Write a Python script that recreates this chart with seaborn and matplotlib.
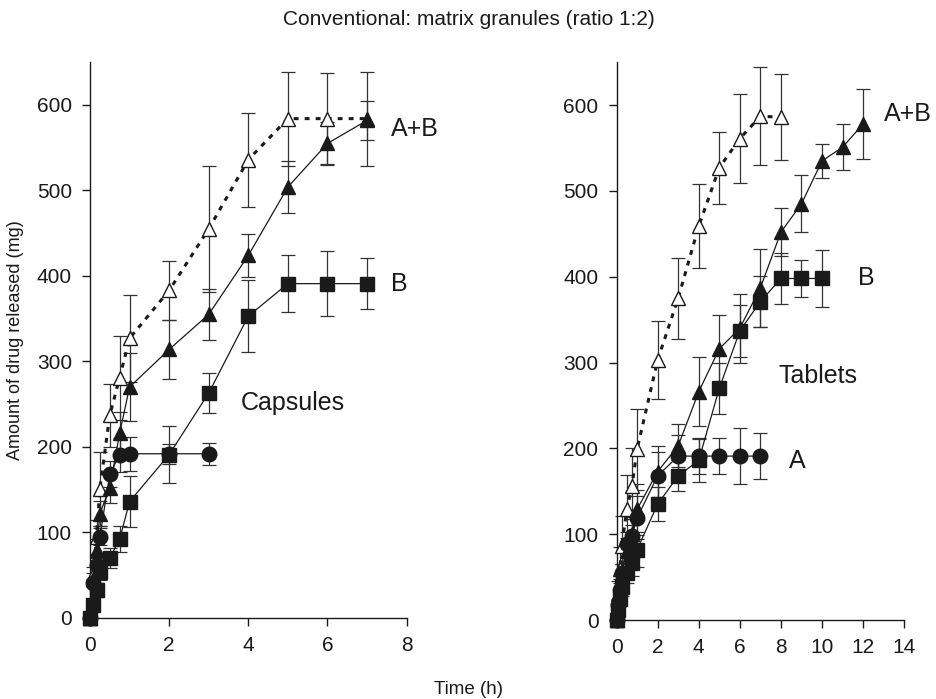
#!/usr/bin/env python3

import numpy as np
import matplotlib
matplotlib.use("Agg")
import matplotlib.pyplot as plt
import seaborn as sns

# ---- capsules (left panel) ----
cap_t_A  = [0, 0.083, 0.167, 0.25, 0.5, 0.75, 1, 2, 3]
cap_A    = [0, 41, 62, 95, 168, 191, 192, 192, 192]
cap_A_sd = [0, 5, 8, 10, 15, 20, 20, 12, 13]

cap_t_B  = [0, 0.083, 0.167, 0.25, 0.5, 0.75, 1, 2, 3, 4, 5, 6, 7]
cap_B    = [0, 15, 33, 54, 70, 92, 136, 191, 263, 353, 391, 391, 391]
cap_B_sd = [0, 5, 8, 10, 12, 15, 30, 33, 23, 42, 33, 38, 30]

cap_t_AB  = [0, 0.083, 0.167, 0.25, 0.5, 0.75, 1, 2, 3, 4, 5, 6, 7]
cap_AB    = [0, 45, 80, 122, 152, 216, 270, 314, 355, 424, 504, 555, 582]
cap_AB_sd = [0, 8, 12, 15, 18, 25, 40, 35, 30, 25, 30, 25, 23]

cap_AB_sum    = [0, 50, 95, 151, 237, 281, 327, 383, 455, 536, 584, 584, 584]
cap_AB_sum_sd = [0, 10, 20, 43, 37, 49, 51, 35, 74, 55, 55, 53, 55]

# ---- tablets (right panel) ----
tab_t_A  = [0, 0.083, 0.167, 0.25, 0.5, 0.75, 1, 2, 3, 4, 5, 6, 7]
tab_A    = [0, 18, 35, 55, 88, 98, 119, 168, 191, 191, 191, 191, 191]
tab_A_sd = [0, 5, 8, 10, 15, 20, 25, 28, 25, 21, 21, 33, 27]

tab_t_B  = [0, 0.083, 0.167, 0.25, 0.5, 0.75, 1, 2, 3, 4, 5, 6, 7, 8, 9, 10]
tab_B    = [0, 12, 25, 38, 55, 66, 82, 135, 168, 186, 270, 337, 371, 398, 398, 398]
tab_B_sd = [0, 5, 8, 10, 12, 15, 20, 20, 18, 25, 30, 30, 30, 30, 22, 33]

tab_t_AB  = [0, 0.083, 0.167, 0.25, 0.5, 0.75, 1, 2, 3, 4, 5, 6, 7, 8, 9, 10, 11, 12]
tab_AB    = [0, 20, 40, 55, 80, 100, 129, 173, 203, 266, 316, 340, 387, 452, 485, 535, 551, 578]
tab_AB_sd = [0, 5, 8, 10, 15, 20, 30, 30, 25, 40, 40, 40, 45, 28, 33, 20, 27, 41]

tab_t_sum     = [0, 0.083, 0.167, 0.25, 0.5, 0.75, 1, 2, 3, 4, 5, 6, 7, 8]
tab_AB_sum    = [0, 30, 60, 86, 129, 156, 199, 303, 375, 459, 527, 561, 587, 586]
tab_AB_sum_sd = [0, 15, 25, 35, 40, 45, 47, 46, 47, 49, 42, 52, 57, 50]

INK = "#1a1a1a"
TEXT_FONT = ["Liberation Sans", "DejaVu Sans"]


def draw_series(ax, t, y, sd, marker, filled=True, dotted=False):
    ax.errorbar(t, y, yerr=sd, fmt="none", ecolor="#333333", elinewidth=0.9,
                capsize=4.7, capthick=0.9, clip_on=False, zorder=2)
    if dotted:
        sns.lineplot(x=t, y=y, ax=ax, color=INK, linewidth=2.2,
                     linestyle=(0, (1.6, 2.0)), zorder=3)
    else:
        sns.lineplot(x=t, y=y, ax=ax, color=INK, linewidth=0.9, zorder=3)
    ax.plot(t, y, linestyle="none", marker=marker, markersize=10.5,
            markerfacecolor=INK if filled else "white",
            markeredgecolor=INK, markeredgewidth=1.0, clip_on=False, zorder=4)


def style_axes(ax, xmax, xstep):
    ax.set_xlim(0, xmax)
    ax.set_ylim(0, 650)
    ax.set_xticks(np.arange(0, xmax + 1, xstep))
    ax.set_yticks(np.arange(0, 601, 100))
    for s in ["top", "right"]:
        ax.spines[s].set_visible(False)
    for s in ["left", "bottom"]:
        ax.spines[s].set_color(INK)
        ax.spines[s].set_linewidth(1.0)
    ax.tick_params(direction="out", length=6, width=1.0, colors=INK,
                   labelsize=15, pad=7)
    ax.set_xlabel("")
    ax.set_ylabel("")


def main():
    sns.set_style("ticks")
    plt.rcParams["font.family"] = TEXT_FONT

    fig = plt.figure(figsize=(9.37, 6.99), dpi=100)
    ax1 = fig.add_axes([0.096, 0.116, 0.338, 0.795])
    ax2 = fig.add_axes([0.658, 0.113, 0.307, 0.798])

    # capsules
    draw_series(ax1, cap_t_AB, cap_AB_sum, cap_AB_sum_sd, "^", filled=False, dotted=True)
    draw_series(ax1, cap_t_A, cap_A, cap_A_sd, "o")
    draw_series(ax1, cap_t_B, cap_B, cap_B_sd, "s")
    draw_series(ax1, cap_t_AB, cap_AB, cap_AB_sd, "^")
    style_axes(ax1, 8, 2)
    ax1.set_ylabel("Amount of drug released (mg)", fontsize=13, color=INK, labelpad=9)
    ax1.text(7.6, 572, "A+B", fontsize=18, color=INK, va="center")
    ax1.text(7.6, 390, "B", fontsize=18, color=INK, va="center")
    ax1.text(3.8, 251, "Capsules", fontsize=18, color=INK, va="center")

    # tablets
    draw_series(ax2, tab_t_sum, tab_AB_sum, tab_AB_sum_sd, "^", filled=False, dotted=True)
    draw_series(ax2, tab_t_A, tab_A, tab_A_sd, "o")
    draw_series(ax2, tab_t_B, tab_B, tab_B_sd, "s")
    draw_series(ax2, tab_t_AB, tab_AB, tab_AB_sd, "^")
    style_axes(ax2, 14, 2)
    ax2.text(13.0, 590, "A+B", fontsize=18, color=INK, va="center")
    ax2.text(11.76, 399, "B", fontsize=18, color=INK, va="center")
    ax2.text(7.9, 284, "Tablets", fontsize=18, color=INK, va="center")
    ax2.text(8.4, 185, "A", fontsize=18, color=INK, va="center")

    fig.text(0.5, 0.972, "Conventional: matrix granules (ratio 1:2)",
             ha="center", va="center", fontsize=15, color=INK)
    fig.text(0.5, 0.014, "Time (h)", ha="center", va="center", fontsize=13.5, color=INK)

    fig.savefig("out.png", dpi=100)


if __name__ == "__main__":
    main()
